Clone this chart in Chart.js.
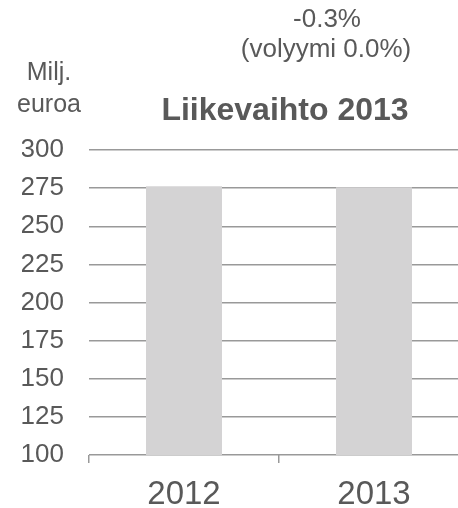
<!DOCTYPE html>
<html>
<head>
<meta charset="utf-8">
<script src="https://cdn.jsdelivr.net/npm/chart.js@4/dist/chart.umd.min.js"></script>
<style>
  html, body { margin: 0; padding: 0; background: #fff; overflow: hidden; }
  #wrap { width: 470px; height: 508px; }
</style>
</head>
<body>
<div id="wrap"><canvas id="chart" width="470" height="508"></canvas></div>
<script>
// Chart data
const years = ['2012', '2013'];
const revenue = [276.3, 275.5];
const yTicks = [100, 125, 150, 175, 200, 225, 250, 275, 300];

const titleText = 'Liikevaihto 2013';
const unitLines = ['Milj.', 'euroa'];
const changeLines = ['-0.3%', '(volyymi 0.0%)'];

const textGray = '#595959';
const fontName = '"Liberation Sans", Arial, sans-serif';

// Draw the header texts (title, unit label, change note)
const headerText = {
    id: 'headerText',
    afterDraw(chart) {
        const ctx = chart.ctx;
        ctx.save();
        ctx.fillStyle = textGray;
        ctx.textAlign = 'center';
        ctx.textBaseline = 'alphabetic';

        ctx.font = '25px ' + fontName;
        ctx.fillText(unitLines[0], 49, 80);
        ctx.fillText(unitLines[1], 49, 112);

        ctx.font = '26px ' + fontName;
        ctx.fillText(changeLines[0], 327, 27);
        ctx.fillText(changeLines[1], 326, 57);

        ctx.font = 'bold 32px ' + fontName;
        ctx.fillText(titleText, 285, 120);
        ctx.restore();
    }
};

const ctx = document.getElementById('chart').getContext('2d');
new Chart(ctx, {
    type: 'bar',
    data: {
        labels: years,
        datasets: [{
            data: revenue,
            backgroundColor: '#d4d3d4',
            borderWidth: 0,
            barPercentage: 0.4,
            categoryPercentage: 1.0
        }]
    },
    options: {
        responsive: false,
        animation: false,
        layout: {
            padding: { top: 150, left: 22, right: 1, bottom: 0 }
        },
        plugins: {
            legend: { display: false },
            tooltip: { enabled: false }
        },
        scales: {
            x: {
                offset: true,
                border: { display: false },
                afterFit(axis) {
                    axis.paddingLeft = 0;
                    axis.paddingRight = 0;
                    axis.height = 53;
                },
                grid: {
                    offset: true,
                    drawOnChartArea: false,
                    drawTicks: true,
                    tickLength: 8,
                    color: '#999999',
                    lineWidth: 1.5
                },
                ticks: {
                    color: textGray,
                    padding: 14,
                    font: { family: fontName, size: 33, lineHeight: 1.1 }
                }
            },
            y: {
                min: 100,
                max: 300,
                border: { display: false },
                afterBuildTicks(axis) {
                    axis.ticks = yTicks.map(v => ({ value: v }));
                },
                afterFit(axis) {
                    axis.width = 67;
                    axis.paddingTop = 0;
                    axis.paddingBottom = 0;
                },
                grid: {
                    drawTicks: false,
                    color: '#999999',
                    lineWidth: 1.5
                },
                ticks: {
                    color: textGray,
                    padding: 25,
                    font: { family: fontName, size: 26 }
                }
            }
        }
    },
    plugins: [headerText]
});
</script>
</body>
</html>
